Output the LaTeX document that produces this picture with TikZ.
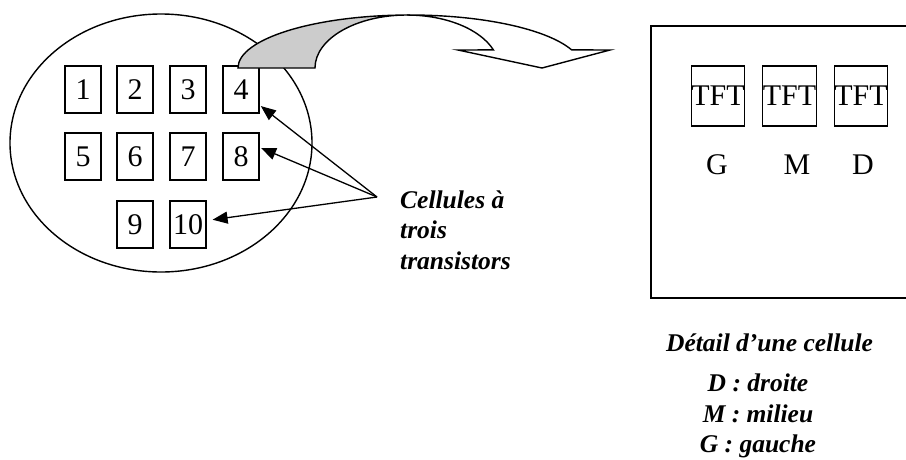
\documentclass[tikz,border=0pt]{standalone}
\usepackage{fontspec}
\setmainfont{Liberation Serif}
\usetikzlibrary{arrows.meta}
\tikzset{
  cellbox/.style={draw, line width=1.3pt, minimum width=36pt, minimum height=47pt, inner sep=0pt, font=\fontsize{30}{36}\selectfont},
  tftbox/.style={draw, line width=1.3pt, minimum width=52pt, minimum height=60pt, inner sep=0pt, font=\fontsize{30}{36}\selectfont},
  note/.style={font=\fontsize{25.5}{30.5}\selectfont\bfseries\itshape, inner sep=0pt},
  pointer/.style={-{Triangle[length=15pt,width=12pt]}, line width=1.3pt, shorten >=1.5pt},
}
\begin{document}
\begin{tikzpicture}[x=1pt,y=-1pt]
    \useasboundingbox (0,0) rectangle (906,459);
    \clip (0,0) rectangle (906,459);
    \draw[line width=1.4pt] (161,143) ellipse [x radius=151, y radius=129];
    \node[cellbox] (n1) at (83,89.5) {1};
    \node[cellbox] (n2) at (135,89.5) {2};
    \node[cellbox] (n3) at (188,89.5) {3};
    \node[cellbox] (n4) at (241,89.5) {4};
    \node[cellbox] (n5) at (83,156.5) {5};
    \node[cellbox] (n6) at (135,156.5) {6};
    \node[cellbox] (n7) at (188,156.5) {7};
    \node[cellbox] (n8) at (241,156.5) {8};
    \node[cellbox] (n9) at (135,224.5) {9};
    \node[cellbox] (n10) at (188,224.5) {10};
    \coordinate (src) at (377,197);
    \node[note, anchor=west, align=left] (cells) at (400,230) {Cellules à\\trois\\transistors};
    \draw[pointer] (src) -- (n4.-40);
    \draw[pointer] (src) -- (n8.26);
    \draw[pointer, shorten >=6pt] (src) -- (n10.12);
    % curved arrow
    \draw[line width=1.4pt, fill=gray!40] (238,68) arc[start angle=180, end angle=270, x radius=172, y radius=53]
        -- (407,15) arc[start angle=270, end angle=180, x radius=92, y radius=53] -- cycle;
    \draw[line width=1.4pt, fill=white] (410,15) arc[start angle=270, end angle=340, x radius=172, y radius=53]
        -- (610,50) -- (542,68) -- (458,50) -- (493.4,49.9)
        arc[start angle=340, end angle=270, x radius=92, y radius=53] -- cycle;
    % cell detail
    \draw[line width=1.5pt] (915,26) -- (651,26) -- (651,298) -- (915,298);
    \node[tftbox] (tftg) at (718,96) {TFT};
    \node[tftbox] (tftm) at (789.5,96) {TFT};
    \node[tftbox] (tftd) at (861,96) {TFT};
    \node[anchor=base, font=\fontsize{30}{36}\selectfont] (labg) at (717,174) {G};
    \node[anchor=base, font=\fontsize{30}{36}\selectfont] (labm) at (797,174) {M};
    \node[anchor=base, font=\fontsize{30}{36}\selectfont] (labd) at (863,174) {D};
    \node[note, anchor=base] (title) at (769.5,351) {Détail d’une cellule};
    \node[note, align=center] (legend) at (758,416) {D : droite\\M : milieu\\G : gauche};
\end{tikzpicture}
\end{document}
